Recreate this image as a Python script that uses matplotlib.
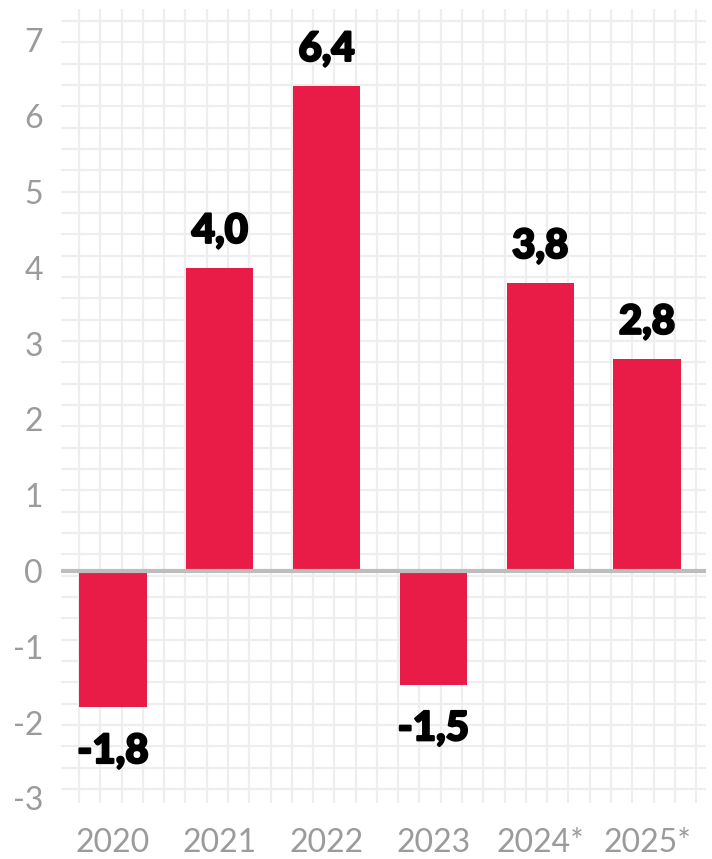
import matplotlib
matplotlib.use("Agg")
import matplotlib.pyplot as plt
import matplotlib.patheffects as pe
import numpy as np

years = ["2020", "2021", "2022", "2023", "2024*", "2025*"]
values = [-1.8, 4.0, 6.4, -1.5, 3.8, 2.8]
labels = ["-1,8", "4,0", "6,4", "-1,5", "3,8", "2,8"]
yticks = [-3, -2, -1, 0, 1, 2, 3, 4, 5, 6, 7]

W, H = 712, 859
fig = plt.figure(figsize=(W / 100, H / 100), dpi=100)
fig.patch.set_facecolor("white")

# background grid (decorative, pixel-based)
bg = fig.add_axes([0, 0, 1, 1], zorder=0)
bg.set_xlim(0, W)
bg.set_ylim(H, 0)
bg.axis("off")
hy = 21 + np.arange(37) * 21.33
bg.hlines(hy, 61, 706, color="#eeeeee", lw=1.6)
vx = 79 + np.arange(30) * 21.28
bg.vlines(vx, 9, 803, color="#eeeeee", lw=1.6)

# main axes
left, right, top, bottom = 61, 706, 9, 803
ax = fig.add_axes([left / W, (H - bottom) / H, (right - left) / W, (bottom - top) / H], zorder=1)
ax.patch.set_alpha(0)
y0, scale = 571, 75.8
ax.set_ylim(-(bottom - y0) / scale, (y0 - top) / scale)
x0, step = 113, 106.8
ax.set_xlim((left - x0) / step, (right - x0) / step)

x = np.arange(len(years))
ax.bar(x, values, width=0.63, color="#E81C47", zorder=2)
ax.axhline(0, color="#bdbdbd", lw=3, zorder=3)

for xi, v, lab in zip(x, values, labels):
    off = 18 if v >= 0 else -40
    ax.annotate(lab, (xi, v), xytext=(0, off), textcoords="offset points",
                ha="center", va="baseline", fontsize=29, fontweight=900,
                family=["Lato", "DejaVu Sans"], color="black",
                path_effects=[pe.withStroke(linewidth=1.6, foreground="black")])

for s in ax.spines.values():
    s.set_visible(False)
ax.set_yticks(yticks)
ax.set_yticklabels([str(t) for t in yticks])
ax.set_xticks(x)
ax.set_xticklabels(years)
ax.tick_params(axis="both", length=0, colors="#9b9b9e", labelsize=23)
ax.tick_params(axis="y", pad=13)
ax.tick_params(axis="x", pad=18)
for t in ax.get_xticklabels() + ax.get_yticklabels():
    t.set_family(["Lato", "DejaVu Sans"])

fig.savefig("out.png", dpi=100)
